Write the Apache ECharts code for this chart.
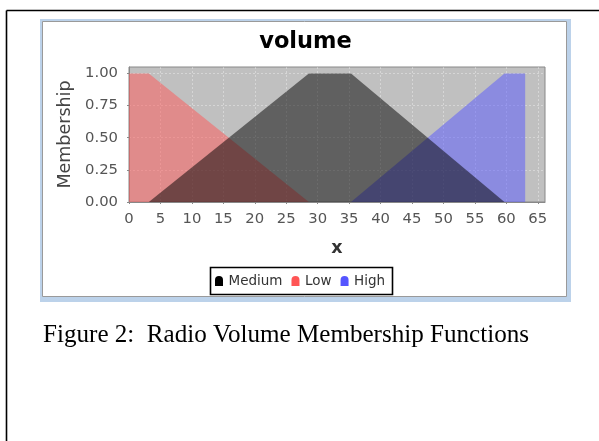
<!DOCTYPE html>
<html>
<head>
<meta charset="utf-8">
<script src="https://cdn.jsdelivr.net/npm/echarts@6/dist/echarts.min.js"></script>
<style>
html,body{margin:0;padding:0;background:#fff;}
#chart{width:599px;height:441px;}
</style>
</head>
<body>
<div id="chart"></div>
<script>
// ---- data ----
const seriesNames = ['Medium', 'Low', 'High'];
const xTicks = [0, 5, 10, 15, 20, 25, 30, 35, 40, 45, 50, 55, 60, 65];
const yTicks = [0, 0.25, 0.5, 0.75, 1.0];
const lowX = [0, 3.15, 28.6];
const lowY = [1, 1, 0];
const mediumX = [3.15, 28.6, 35.3, 59.7];
const mediumY = [0, 1, 1, 0];
const highX = [35.3, 59.7, 63];
const highY = [0, 1, 1];
const titleText = 'volume';
const xName = 'x';
const yName = 'Membership';
const captionText = 'Figure 2:  Radio Volume Membership Functions';

const pairs = (xs, ys) => xs.map((x, i) => [x, ys[i]]);
const colors = { Medium: '#000000', Low: '#ff5555', High: '#5555ff' };
const legendIcon = 'path://M0,10 L0,4 A4,4 0 0 1 8,4 L8,10 Z';

function areaSeries(name, data) {
  return {
    name: name,
    type: 'line',
    data: data,
    color: colors[name],
    symbol: 'none',
    lineStyle: { width: 0, opacity: 0 },
    areaStyle: { color: colors[name], opacity: 0.5 },
    silent: true,
    animation: false
  };
}

const chart = echarts.init(document.getElementById('chart'), null, { renderer: 'canvas' });
const axisFont = 'DejaVu Sans';
chart.setOption({
  animation: false,
  backgroundColor: '#ffffff',
  graphic: [
    { type: 'line', shape: { x1: 6.5, y1: 10.5, x2: 599, y2: 10.5 }, style: { stroke: '#000', lineWidth: 1.6 }, z: -10 },
    { type: 'line', shape: { x1: 6.5, y1: 10.5, x2: 6.5, y2: 441 }, style: { stroke: '#000', lineWidth: 1.6 }, z: -10 },
    { type: 'rect', shape: { x: 40, y: 19, width: 531, height: 283 }, style: { fill: '#bcd2ea' }, z: -10 },
    { type: 'rect', shape: { x: 42.5, y: 21.5, width: 524, height: 275 }, style: { fill: '#ffffff', stroke: '#9a9a9a', lineWidth: 1 }, z: -9 },
    { type: 'text', x: 305.5, y: 42, style: { text: titleText, font: 'bold 22.5px "DejaVu Sans"', fill: '#000', align: 'center', verticalAlign: 'middle' }, z: 10 },
    { type: 'rect', shape: { x: 210.5, y: 267.5, width: 182, height: 27 }, style: { fill: 'none', stroke: '#000', lineWidth: 1.6 }, z: 10 },
    { type: 'text', x: 43, y: 335.5, style: { text: captionText, font: '25.1px "Liberation Serif"', fill: '#000', align: 'left', verticalAlign: 'middle' }, z: 10 }
  ],
  grid: {
    left: 129, top: 67, width: 416, height: 135,
    show: true, backgroundColor: '#c0c0c0', borderColor: '#888888', borderWidth: 1
  },
  legend: {
    data: seriesNames.map(n => ({ name: n, icon: legendIcon, itemStyle: { color: colors[n], opacity: 1 } })),
    left: 215, top: 274,
    itemWidth: 9, itemHeight: 10, itemGap: 9, padding: 0,
    textStyle: { fontFamily: axisFont, fontSize: 13.5, color: '#333' },
    selectedMode: false
  },
  xAxis: {
    type: 'value', min: 0, max: 66.15, interval: 5,
    offset: 4,
    name: xName, nameLocation: 'middle', nameGap: 33,
    nameTextStyle: { fontFamily: axisFont, fontSize: 17.5, color: '#333', fontWeight: 'bold' },
    axisLine: { show: true, lineStyle: { color: '#888', width: 1 } },
    axisTick: { show: true, length: 2, lineStyle: { color: '#888' }, customValues: xTicks },
    axisLabel: { fontFamily: axisFont, fontSize: 14.8, color: '#555', margin: 6, customValues: xTicks,
      formatter: v => (xTicks.indexOf(v) >= 0 ? String(v) : '') },
    splitLine: { show: true, lineStyle: { color: 'rgba(255,255,255,0.35)', type: [2, 2], width: 1 } }
  },
  yAxis: {
    type: 'value', min: 0, max: 1.05, interval: 0.25,
    offset: 3,
    name: yName, nameLocation: 'middle', nameGap: 46, nameRotate: 90,
    nameTextStyle: { fontFamily: axisFont, fontSize: 17.5, color: '#444' },
    axisLine: { show: true, lineStyle: { color: '#888', width: 1 } },
    axisTick: { show: true, length: 2, lineStyle: { color: '#888' }, customValues: yTicks },
    axisLabel: { fontFamily: axisFont, fontSize: 14.8, color: '#555', margin: 8, customValues: yTicks,
      formatter: v => (yTicks.indexOf(v) >= 0 ? v.toFixed(2) : '') },
    splitLine: { show: true, lineStyle: { color: 'rgba(255,255,255,0.35)', type: [2, 2], width: 1 } }
  },
  series: [
    areaSeries('Low', pairs(lowX, lowY)),
    areaSeries('High', pairs(highX, highY)),
    areaSeries('Medium', pairs(mediumX, mediumY))
  ]
});
</script>
</body>
</html>
